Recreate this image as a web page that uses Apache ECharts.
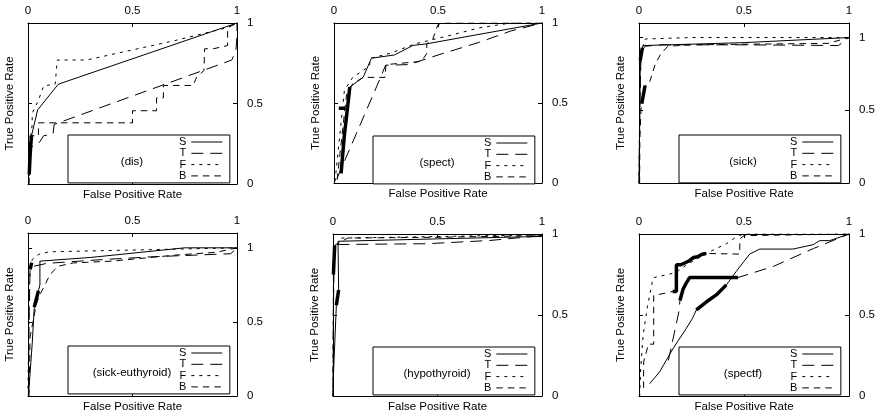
<!DOCTYPE html>
<html><head><meta charset="utf-8">
<script src="https://cdn.jsdelivr.net/npm/echarts@6/dist/echarts.min.js"></script>
<style>html,body{margin:0;padding:0;background:#fff}#c{width:878px;height:416px}</style>
</head><body><div id="c"></div>
<script>
// ---- data: [false positive rate, true positive rate] ----
const panelNames = ['(dis)', '(spect)', '(sick)', '(sick-euthyroid)', '(hypothyroid)', '(spectf)'];
const seriesNames = ['S', 'T', 'F', 'B'];
const axisTicks = [0, 0.5, 1];
const yMaxes = [1, 1, 1.1, 1.1, 1, 1];

// (dis)
const disS = [[0.017,0.30],[0.046,0.46],[0.145,0.62],[1,1]];
const disSThick = [[0.006,0.06],[0.009,0.15],[0.013,0.24],[0.017,0.30]];
const disT = [[0.005,0.05],[0.015,0.23],[0.04,0.24],[0.055,0.26],[0.075,0.30],[0.12,0.31],[0.125,0.37],[0.975,0.77],[0.995,0.83],[1,0.92],[1,1]];
const disF = [[0.003,0.0],[0.005,0.2],[0.02,0.37],[0.02,0.44],[0.05,0.52],[0.075,0.61],[0.13,0.62],[0.14,0.77],[0.28,0.77],[0.70,0.89],[0.95,0.97],[1,1]];
const disB = [[0.005,0.0],[0.01,0.30],[0.05,0.30],[0.05,0.38],[0.5,0.38],[0.5,0.455],[0.615,0.455],[0.615,0.535],[0.648,0.535],[0.648,0.612],[0.79,0.612],[0.807,0.664],[0.842,0.705],[0.845,0.84],[0.887,0.84],[0.955,0.86],[0.955,0.97],[1,1]];

// (spect)
const spectS = [[0.076,0.60],[0.14,0.66],[0.18,0.78],[0.29,0.80],[0.38,0.86],[0.446,0.87],[1,1]];
const spectSThick = [[0.034,0.06],[0.05,0.3],[0.065,0.47],[0.076,0.60]];
const spectSThick2 = [[0.023,0.467],[0.055,0.467]];
const spectT = [[0.015,0.03],[0.224,0.66],[0.248,0.736],[0.36,0.74],[0.5,0.80],[0.7,0.88],[0.85,0.95],[1,1]];
const spectF = [[0.005,0.01],[0.05,0.58],[0.09,0.66],[0.17,0.73],[0.176,0.78],[0.27,0.81],[0.39,0.87],[0.55,0.92],[0.7,0.97],[0.85,1],[1,1]];
const spectB = [[0.015,0.02],[0.06,0.55],[0.09,0.62],[0.14,0.66],[0.245,0.66],[0.25,0.74],[0.42,0.76],[0.446,0.81],[0.446,0.87],[0.475,0.9],[0.5,0.99],[0.52,1],[1,1]];

// (sick)
const sickS = [[0,0],[0.004,0.5],[0.006,0.845],[0.016,0.93],[0.02,0.945],[0.5,0.965],[1,1]];
const sickSThick = [[0.006,0.845],[0.016,0.93]];
const sickT = [[0.001,0],[0.003,0.5],[0.01,0.9],[0.03,0.94],[0.1,0.95],[0.5,0.95],[0.95,0.945],[1,1]];
const sickF = [[0,0],[0.003,0.5],[0.01,0.9],[0.03,0.99],[0.25,1.0],[1,1]];
const sickB = [[0.003,0.0],[0.004,0.3],[0.0095,0.5],[0.013,0.545],[0.029,0.67],[0.052,0.70],[0.078,0.82],[0.103,0.885],[0.137,0.94],[0.25,0.95],[0.9,0.96],[1,1]];
const sickBThick = [[0.013,0.545],[0.02,0.6],[0.029,0.67]];

// (sick-euthyroid)
const seuS = [[0.003,0.02],[0.02,0.35],[0.03,0.6],[0.05,0.71],[0.057,0.75],[0.057,0.91],[0.3,0.935],[0.75,1.0],[1,1]];
const seuSThick = [[0.03,0.6],[0.05,0.71]];
const seuT = [[0.002,0.0],[0.005,0.5],[0.01,0.87],[0.09,0.895],[0.35,0.92],[0.6,0.94],[0.97,0.96],[1,1]];
const seuF = [[0,0.05],[0.005,0.6],[0.01,0.855],[0.02,0.92],[0.05,0.955],[0.1,0.973],[0.5,0.985],[1,1]];
const seuFThick = [[0.01,0.855],[0.018,0.9]];
const seuB = [[0.005,0],[0.01,0.4],[0.04,0.62],[0.055,0.68],[0.085,0.76],[0.105,0.82],[0.145,0.876],[0.217,0.898],[0.4,0.91],[0.7,0.95],[0.9,0.97],[1,1]];

// (hypothyroid)
const hypS = [[0.0,0.07],[0.016,0.56],[0.027,0.655],[0.024,0.955],[0.5,0.97],[1,0.985]];
const hypSThick = [[0.016,0.56],[0.027,0.655]];
const hypT = [[0,0],[0.002,0.5],[0.005,0.85],[0.02,0.935],[0.45,0.94],[0.75,0.96],[1,0.99]];
const hypF = [[0,0],[0.002,0.6],[0.005,0.9],[0.04,0.975],[0.3,0.98],[1,0.995]];
const hypB = [[0,0],[0.002,0.7],[0.002,0.75],[0.008,0.93],[0.07,0.975],[0.5,0.98],[1,0.99]];
const hypBThick = [[0.002,0.75],[0.008,0.93]];

// (spectf)
const spfS = [[0.051,0.076],[0.098,0.149],[0.162,0.293],[0.225,0.417],[0.255,0.48],[0.273,0.531],[0.32,0.58],[0.368,0.624],[0.416,0.686],[0.463,0.769],[0.527,0.876],[0.575,0.907],[0.733,0.907],[0.829,0.934],[0.86,0.959],[0.908,0.959],[1,1]];
const spfSThick = [[0.273,0.531],[0.32,0.58],[0.368,0.624],[0.416,0.686]];
const spfT = [[0.14,0.22],[0.19,0.52],[0.195,0.59],[0.21,0.66],[0.222,0.69],[0.241,0.731],[0.471,0.731],[0.64,0.8],[0.83,0.91],[1,1]];
const spfTThick = [[0.195,0.59],[0.21,0.66],[0.222,0.69],[0.241,0.731],[0.471,0.731]];
const spfF = [[0.003,0.0],[0.008,0.17],[0.02,0.38],[0.04,0.55],[0.067,0.73],[0.17,0.76],[0.24,0.82],[0.32,0.88],[0.416,0.94],[0.456,0.975],[0.495,1],[1,1]];
const spfB = [[0.022,0.05],[0.022,0.21],[0.045,0.32],[0.07,0.32],[0.07,0.62],[0.16,0.645],[0.178,0.645],[0.178,0.81],[0.2,0.81],[0.2,0.82],[0.24,0.835],[0.26,0.855],[0.28,0.86],[0.3,0.875],[0.32,0.88],[0.48,0.876],[0.48,0.97],[0.5,0.99],[1,1]];
const spfBThick = [[0.16,0.645],[0.178,0.645],[0.178,0.81],[0.2,0.81],[0.2,0.82],[0.24,0.835],[0.26,0.855],[0.28,0.86],[0.3,0.875],[0.32,0.88]];

const panelSeries = [
  {S: disS, T: disT, F: disF, B: disB, thick: [disSThick]},
  {S: spectS, T: spectT, F: spectF, B: spectB, thick: [spectSThick, spectSThick2]},
  {S: sickS, T: sickT, F: sickF, B: sickB, thick: [sickSThick, sickBThick]},
  {S: seuS, T: seuT, F: seuF, B: seuB, thick: [seuSThick, seuFThick]},
  {S: hypS, T: hypT, F: hypF, B: hypB, thick: [hypSThick, hypBThick]},
  {S: spfS, T: spfT, F: spfF, B: spfB, thick: [spfSThick, spfTThick, spfBThick]}
];

// ---- layout / style ----
const FONT = '"Liberation Sans", Arial, Helvetica, sans-serif';
const grids = [
  {left: 28, top: 23, width: 209, height: 161},
  {left: 334, top: 23, width: 208, height: 160},
  {left: 639, top: 23, width: 210, height: 160},
  {left: 28, top: 233, width: 209, height: 163},
  {left: 333, top: 234, width: 209, height: 162},
  {left: 639, top: 234, width: 210, height: 162}
];
const legendPos = [[68,135],[373,136],[679,135],[68,346],[373,347],[679,347]];
const dashes = {S: 'solid', T: [12, 7], F: [3, 5], B: [6.5, 5]};

function fmt(v) {
  for (const t of axisTicks) if (Math.abs(v - t) < 1e-9) return String(t);
  return '';
}

const option = {
  animation: false,
  backgroundColor: '#fff',
  textStyle: {fontFamily: FONT},
  grid: [], xAxis: [], yAxis: [], series: [], legend: [], graphic: []
};

grids.forEach((g, i) => {
  option.grid.push(Object.assign({show: false, containLabel: false}, g));
  const tickCommon = {show: true, inside: true, length: 4, lineStyle: {color: '#000', width: 1}};
  const lineCommon = {show: true, onZero: false, lineStyle: {color: '#000', width: 1}};
  option.xAxis.push({type: 'value', gridIndex: i, position: 'top', min: 0, max: 1, interval: 0.5,
    axisLine: lineCommon, axisTick: tickCommon, splitLine: {show: false},
    axisLabel: {show: true, margin: 6, color: '#000', fontSize: 11.5, fontFamily: FONT, formatter: fmt}});
  option.xAxis.push({type: 'value', gridIndex: i, position: 'bottom', min: 0, max: 1, interval: 0.5,
    axisLine: lineCommon, axisTick: tickCommon, splitLine: {show: false}, axisLabel: {show: false},
    name: 'False Positive Rate', nameLocation: 'middle', nameGap: 5,
    nameTextStyle: {color: '#000', fontSize: 11.5, fontFamily: FONT, verticalAlign: 'top'}});
  option.yAxis.push({type: 'value', gridIndex: i, position: 'right', min: 0, max: yMaxes[i], interval: 0.5,
    axisLine: lineCommon, axisTick: tickCommon, splitLine: {show: false},
    axisLabel: {show: true, margin: 10, color: '#000', fontSize: 11.5, fontFamily: FONT, formatter: fmt}});
  option.yAxis.push({type: 'value', gridIndex: i, position: 'left', min: 0, max: yMaxes[i], interval: 0.5,
    axisLine: lineCommon, axisTick: tickCommon, splitLine: {show: false}, axisLabel: {show: false},
    name: 'True Positive Rate', nameLocation: 'middle', nameGap: 12, nameRotate: 90,
    nameTextStyle: {color: '#000', fontSize: 11.5, fontFamily: FONT}});

  const ps = panelSeries[i];
  seriesNames.forEach(n => {
    option.series.push({type: 'line', name: n, xAxisIndex: 2 * i, yAxisIndex: 2 * i,
      data: ps[n], symbol: 'none', showSymbol: false, silent: true, z: 3,
      lineStyle: {color: '#000', width: 1, type: dashes[n]}, itemStyle: {color: '#000'}});
  });
  ps.thick.forEach((d, k) => {
    option.series.push({type: 'line', name: 'dense' + i + '_' + k, xAxisIndex: 2 * i, yAxisIndex: 2 * i,
      data: d, symbol: 'none', showSymbol: false, silent: true, z: 4,
      lineStyle: {color: '#000', width: 3.5, type: 'solid'}});
  });

  option.legend.push({
    data: seriesNames, orient: 'vertical', align: 'right', selectedMode: false,
    left: legendPos[i][0], top: legendPos[i][1],
    padding: [1.5, 7, 1.5, 111], itemGap: 0.3, itemWidth: 31, itemHeight: 9,
    borderColor: '#000', borderWidth: 1, backgroundColor: '#fff',
    textStyle: {color: '#000', fontSize: 11, lineHeight: 11, fontFamily: FONT},
    lineStyle: {width: 1}, itemStyle: {opacity: 0}
  });
  option.graphic.push({type: 'text', x: legendPos[i][0] + 64, y: legendPos[i][1] + 27, z: 100,
    style: {text: panelNames[i], fill: '#000', font: '11.5px ' + FONT, textAlign: 'center', textVerticalAlign: 'middle', align: 'center', verticalAlign: 'middle'}});
});

const chart = echarts.init(document.getElementById('c'), null, {renderer: 'canvas'});
chart.setOption(option);
</script>
</body></html>
